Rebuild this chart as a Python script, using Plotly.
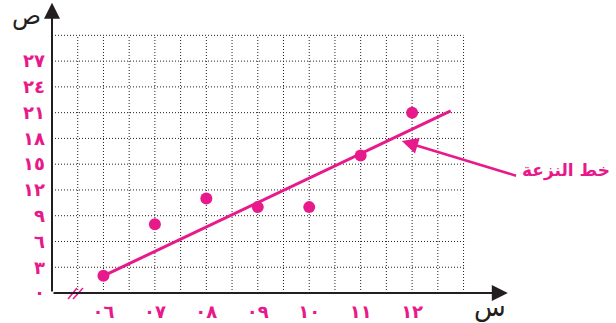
import plotly.graph_objects as go

# ---- data ----
years = [6, 7, 8, 9, 10, 11, 12]
values = [2, 8, 11, 10, 10, 16, 21]
x_tick_vals = [6, 7, 8, 9, 10, 11, 12]
x_tick_text = ["٠٦", "٠٧", "٠٨", "٠٩", "١٠", "١١", "١٢"]
y_tick_vals = [0, 3, 6, 9, 12, 15, 18, 21, 24, 27]
y_tick_text = ["٠", "٣", "٦", "٩", "١٢", "١٥", "١٨", "٢١", "٢٤", "٢٧"]
trend_x = [6, 12.75]
trend_y = [2, 21.2]
grid_x = [5.5 + 0.5 * i for i in range(16)]   # 5.5 .. 13
grid_y = [3 * i for i in range(1, 11)]        # 3 .. 30

PINK = "#E8198B"
DARK = "#231F20"
FONT = "DejaVu Sans"

fig = go.Figure()

# dotted grid limited to the drawing area
gx, gy = [], []
for xv in grid_x:
    gx += [xv, xv, None]
    gy += [0, grid_y[-1], None]
for yv in grid_y:
    gx += [5, grid_x[-1], None]
    gy += [yv, yv, None]
fig.add_trace(go.Scatter(x=gx, y=gy, mode="lines", hoverinfo="skip",
                         line=dict(color=DARK, width=1, dash="1px,2px"),
                         showlegend=False))

# trend line
fig.add_trace(go.Scatter(x=trend_x, y=trend_y, mode="lines",
                         line=dict(color=PINK, width=3), showlegend=False))
# points
fig.add_trace(go.Scatter(x=years, y=values, mode="markers",
                         marker=dict(color=PINK, size=12), showlegend=False))

annotations = [
    # y axis with arrow
    dict(x=5, y=33.8, ax=5, ay=0, xref="x", yref="y", axref="x", ayref="y",
         showarrow=True, arrowhead=2, arrowsize=1.6, arrowwidth=2,
         arrowcolor=DARK, text="", standoff=0),
    # x axis with arrow
    dict(x=13.86, y=0, ax=5, ay=0, xref="x", yref="y", axref="x", ayref="y",
         showarrow=True, arrowhead=2, arrowsize=1.6, arrowwidth=2,
         arrowcolor=DARK, text="", standoff=0),
    # axis titles
    dict(x=-0.054, y=0.948, xref="paper", yref="paper", text="ص",
         xanchor="center", yanchor="middle",
         showarrow=False, font=dict(family=FONT, size=24, color=DARK)),
    dict(x=0.946, y=-0.048, xref="paper", yref="paper", text="س",
         xanchor="center", yanchor="middle",
         showarrow=False, font=dict(family=FONT, size=26, color=DARK)),
    # trend label arrow
    dict(x=11.8, y=17.7, ax=14.05, ay=13.6, xref="x", yref="y",
         axref="x", ayref="y", showarrow=True, arrowhead=2, arrowsize=1.3,
         arrowwidth=2.5, arrowcolor=PINK, text="", standoff=0),
    dict(x=1.110, y=0.418, xref="paper", yref="paper", text="<b>خط النزعة</b>",
         xanchor="center", yanchor="middle",
         showarrow=False, font=dict(family=FONT, size=17, color=PINK)),
]

shapes = [
    dict(type="line", x0=0.0346, y0=-0.0205, x1=0.054, y1=0.0171,
         xref="paper", yref="paper", line=dict(color=PINK, width=1.5)),
    dict(type="line", x0=0.0454, y0=-0.0205, x1=0.067, y1=0.0171,
         xref="paper", yref="paper", line=dict(color=PINK, width=1.5)),
]

fig.update_layout(
    width=616, height=323,
    margin=dict(l=52, r=101, t=1, b=30),
    plot_bgcolor="white", paper_bgcolor="white",
    annotations=annotations, shapes=shapes,
    xaxis=dict(range=[5, 14], showgrid=False, zeroline=False, showline=False,
               tickvals=x_tick_vals, ticktext=x_tick_text, ticks="",
               ticklabelstandoff=6,
               tickfont=dict(family=FONT, size=18, color=PINK, weight="bold")),
    yaxis=dict(range=[0, 34], showgrid=False, zeroline=False, showline=False,
               tickvals=y_tick_vals, ticktext=y_tick_text, ticks="",
               ticklabelstandoff=6,
               tickfont=dict(family=FONT, size=18, color=PINK, weight="bold")),
)

fig.write_html("out.html",
               config={"displayModeBar": False},
               post_script="document.body.style.margin='0';")
